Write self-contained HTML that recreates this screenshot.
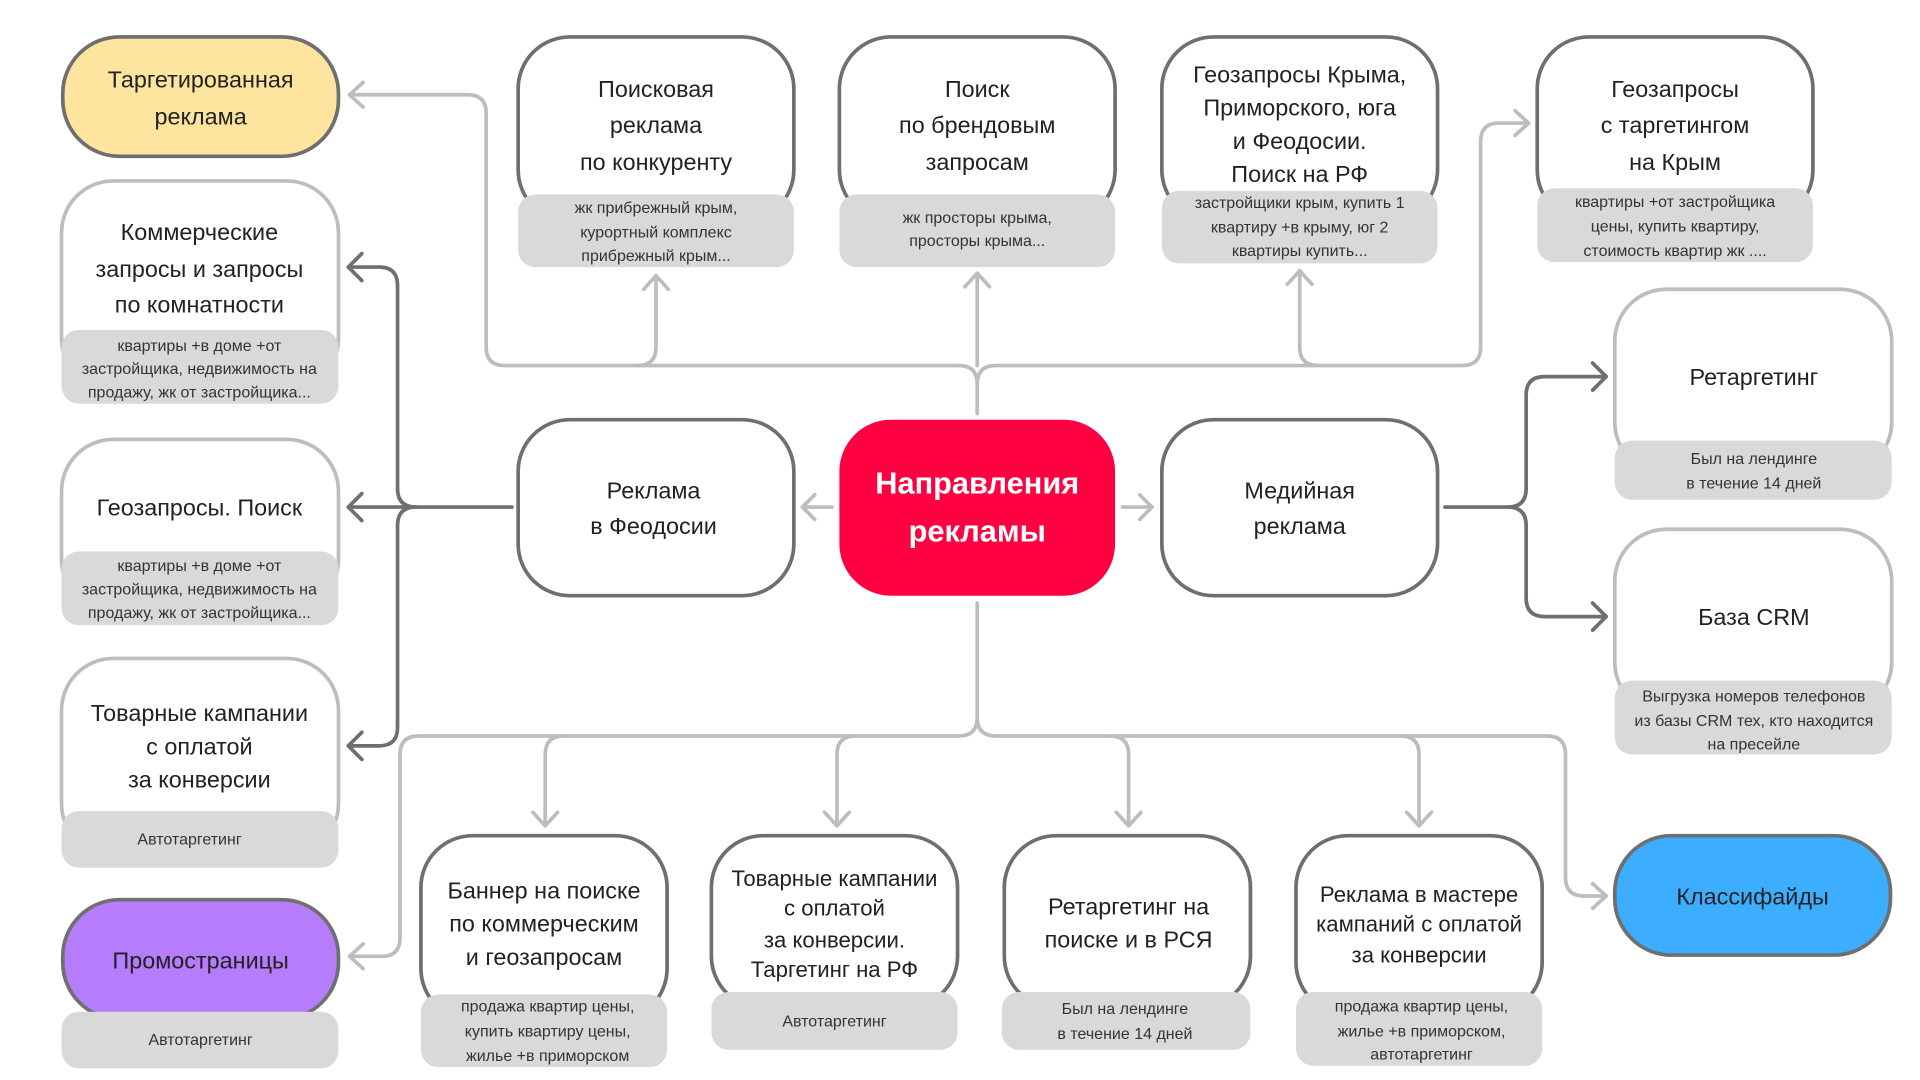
<!DOCTYPE html>
<html><head><meta charset="utf-8"><style>
html,body{margin:0;padding:0;background:#fff;}
svg{display:block}
text{font-family:"Liberation Sans",sans-serif;text-anchor:middle;fill:#222}
.t{font-size:19px}
.l{font-size:13px;fill:#333}
.dk{fill:#fff;stroke:#6f6f6f;stroke-width:3}
.lt{fill:#fff;stroke:#bdbdbd;stroke-width:3}
.lb{fill:#d9d9d9}
.cl{fill:none;stroke:#bdbdbd;stroke-width:3;stroke-linecap:round;stroke-linejoin:round}
.cd{fill:none;stroke:#6f6f6f;stroke-width:3;stroke-linecap:round;stroke-linejoin:round}
</style></head><body>
<svg width="1920" height="1080" viewBox="0 0 1560 877.5" xmlns="http://www.w3.org/2000/svg">
<rect width="1560" height="878" fill="#fff"/>
<!-- connectors light top -->
<path class="cl" d="M794,336 V312 Q794,297 779,297 H410 Q395,297 395,282 V92 Q395,77 380,77 H285"/>
<path class="cl" d="M794,312 Q794,297 809,297 H1188 Q1203,297 1203,282 V115 Q1203,100 1218,100 H1241"/>
<path class="cl" d="M518,297 Q533,297 533,282 V224"/>
<path class="cl" d="M794,297 V222"/>
<path class="cl" d="M1071,297 Q1056,297 1056,282 V220"/>
<polyline class="cl" points="295,67 284,77 295,87"/>
<polyline class="cl" points="1231,90 1242,100 1231,110"/>
<polyline class="cl" points="523,235 533,224 543,235"/>
<polyline class="cl" points="784,233 794,222 804,233"/>
<polyline class="cl" points="1046,231 1056,220 1066,231"/>
<!-- left dark -->
<path class="cd" d="M416,412 H283"/>
<path class="cd" d="M338,412 Q323,412 323,397 V232 Q323,217 308,217 H283"/>
<path class="cd" d="M338,412 Q323,412 323,427 V591 Q323,606 308,606 H283"/>
<polyline class="cd" points="294,206 283,217 294,228"/>
<polyline class="cd" points="294,401 283,412 294,423"/>
<polyline class="cd" points="294,595 283,606 294,617"/>
<!-- center side arrows -->
<path class="cl" d="M676,412 H652"/><polyline class="cl" points="662,402 652,412 662,422"/>
<path class="cl" d="M912,412 H936"/><polyline class="cl" points="926,402 936,412 926,422"/>
<!-- right dark -->
<path class="cd" d="M1174,412 H1225 Q1240,412 1240,397 V321 Q1240,306 1255,306 H1305"/>
<path class="cd" d="M1225,412 Q1240,412 1240,427 V486 Q1240,501 1255,501 H1305"/>
<polyline class="cd" points="1294,295 1305,306 1294,317"/>
<polyline class="cd" points="1294,490 1305,501 1294,512"/>
<!-- bottom light -->
<path class="cl" d="M794,490 V583 Q794,598 779,598 H340 Q325,598 325,613 V762 Q325,777 310,777 H285"/>
<path class="cl" d="M794,583 Q794,598 809,598 H1257 Q1272,598 1272,613 V713 Q1272,728 1287,728 H1305"/>
<path class="cl" d="M458,598 Q443,598 443,613 V670"/>
<path class="cl" d="M695,598 Q680,598 680,613 V670"/>
<path class="cl" d="M902,598 Q917,598 917,613 V670"/>
<path class="cl" d="M1138,598 Q1153,598 1153,613 V670"/>
<polyline class="cl" points="295,767 284,777 295,787"/>
<polyline class="cl" points="1294,718 1305,728 1294,738"/>
<polyline class="cl" points="433,660 443,671 453,660"/>
<polyline class="cl" points="670,660 680,671 690,660"/>
<polyline class="cl" points="907,660 917,671 927,660"/>
<polyline class="cl" points="1143,660 1153,671 1163,660"/>

<!-- left column -->
<rect x="51" y="30" width="224" height="97" rx="46" fill="#fde59f" stroke="#6f6f6f" stroke-width="3"/>
<text class="t" x="163" y="71">Таргетированная</text><text class="t" x="163" y="101">реклама</text>

<rect class="lt" x="50" y="147" width="225" height="170" rx="42"/>
<rect class="lb" x="50" y="268" width="225" height="60" rx="14"/>
<text class="t" x="162" y="195">Коммерческие</text><text class="t" x="162" y="225">запросы и запросы</text><text class="t" x="162" y="254">по комнатности</text>
<text class="l" x="162" y="285">квартиры +в доме +от</text><text class="l" x="162" y="304">застройщика, недвижимость на</text><text class="l" x="162" y="323">продажу, жк от застройщика...</text>

<rect class="lt" x="50" y="357" width="225" height="140" rx="42"/>
<rect class="lb" x="50" y="448" width="225" height="60" rx="14"/>
<text class="t" x="162" y="419">Геозапросы. Поиск</text>
<text class="l" x="162" y="464">квартиры +в доме +от</text><text class="l" x="162" y="483">застройщика, недвижимость на</text><text class="l" x="162" y="502">продажу, жк от застройщика...</text>

<rect class="lt" x="50" y="535" width="225" height="160" rx="42"/>
<rect class="lb" x="50" y="659" width="225" height="46" rx="14"/>
<text class="t" x="162" y="586">Товарные кампании</text><text class="t" x="162" y="613">с оплатой</text><text class="t" x="162" y="640">за конверсии</text>
<text class="l" x="154" y="686">Автотаргетинг</text>

<rect x="51" y="731" width="224" height="97" rx="46" fill="#b57cfb" stroke="#6f6f6f" stroke-width="3"/>
<rect class="lb" x="50" y="822" width="225" height="46" rx="14"/>
<text class="t" x="163" y="787">Промостраницы</text>
<text class="l" x="163" y="849">Автотаргетинг</text>

<!-- top row -->
<rect class="dk" x="421" y="30" width="224" height="150" rx="42"/>
<rect class="lb" x="421" y="158" width="224" height="59" rx="14"/>
<text class="t" x="533" y="79">Поисковая</text><text class="t" x="533" y="108">реклама</text><text class="t" x="533" y="138">по конкуренту</text>
<text class="l" x="533" y="173">жк прибрежный крым,</text><text class="l" x="533" y="193">курортный комплекс</text><text class="l" x="533" y="212">прибрежный крым...</text>

<rect class="dk" x="682" y="30" width="224" height="150" rx="42"/>
<rect class="lb" x="682" y="158" width="224" height="59" rx="14"/>
<text class="t" x="794" y="79">Поиск</text><text class="t" x="794" y="108">по брендовым</text><text class="t" x="794" y="138">запросам</text>
<text class="l" x="794" y="181">жк просторы крыма,</text><text class="l" x="794" y="200">просторы крыма...</text>

<rect class="dk" x="944" y="30" width="224" height="150" rx="42"/>
<rect class="lb" x="944" y="155" width="224" height="59" rx="14"/>
<text class="t" x="1056" y="67">Геозапросы Крыма,</text><text class="t" x="1056" y="94">Приморского, юга</text><text class="t" x="1056" y="121">и Феодосии.</text><text class="t" x="1056" y="148">Поиск на РФ</text>
<text class="l" x="1056" y="169">застройщики крым, купить 1</text><text class="l" x="1056" y="189">квартиру +в крыму, юг 2</text><text class="l" x="1056" y="208">квартиры купить...</text>

<rect class="dk" x="1249" y="30" width="224" height="150" rx="42"/>
<rect class="lb" x="1249" y="153" width="224" height="60" rx="14"/>
<text class="t" x="1361" y="79">Геозапросы</text><text class="t" x="1361" y="108">с таргетингом</text><text class="t" x="1361" y="138">на Крым</text>
<text class="l" x="1361" y="168">квартиры +от застройщика</text><text class="l" x="1361" y="188">цены, купить квартиру,</text><text class="l" x="1361" y="208">стоимость квартир жк ....</text>

<!-- middle row -->
<rect class="dk" x="421" y="341" width="224" height="143" rx="42"/>
<text class="t" x="531" y="405">Реклама</text><text class="t" x="531" y="434">в Феодосии</text>
<rect x="682" y="341" width="224" height="143" rx="42" fill="#ff0041"/>
<text x="794" y="401" style="font-size:25px;font-weight:bold;fill:#fff">Направления</text>
<text x="794" y="440" style="font-size:25px;font-weight:bold;fill:#fff">рекламы</text>
<rect class="dk" x="944" y="341" width="224" height="143" rx="42"/>
<text class="t" x="1056" y="405">Медийная</text><text class="t" x="1056" y="434">реклама</text>

<!-- right column -->
<rect class="lt" x="1312" y="235" width="225" height="150" rx="42"/>
<rect class="lb" x="1312" y="358" width="225" height="48" rx="14"/>
<text class="t" x="1425" y="313">Ретаргетинг</text>
<text class="l" x="1425" y="377">Был на лендинге</text><text class="l" x="1425" y="397">в течение 14 дней</text>

<rect class="lt" x="1312" y="430" width="225" height="150" rx="42"/>
<rect class="lb" x="1312" y="553" width="225" height="60" rx="14"/>
<text class="t" x="1425" y="508">База CRM</text>
<text class="l" x="1425" y="570">Выгрузка номеров телефонов</text><text class="l" x="1425" y="590">из базы CRM тех, кто находится</text><text class="l" x="1425" y="609">на пресейле</text>

<rect x="1312" y="679" width="224" height="97" rx="46" fill="#3dadff" stroke="#6f6f6f" stroke-width="3"/>
<text class="t" x="1424" y="735">Классифайды</text>

<!-- bottom row -->
<rect class="dk" x="342" y="679" width="200" height="150" rx="42"/>
<rect class="lb" x="342" y="808" width="200" height="59" rx="14"/>
<text class="t" x="442" y="730">Баннер на поиске</text><text class="t" x="442" y="757">по коммерческим</text><text class="t" x="442" y="784">и геозапросам</text>
<text class="l" x="445" y="822">продажа квартир цены,</text><text class="l" x="445" y="842">купить квартиру цены,</text><text class="l" x="445" y="862">жилье +в приморском</text>

<rect class="dk" x="578" y="679" width="200" height="140" rx="42"/>
<rect class="lb" x="578" y="806" width="200" height="47" rx="14"/>
<text class="t" x="678" y="720" style="font-size:18px">Товарные кампании</text><text class="t" x="678" y="744" style="font-size:18px">с оплатой</text><text class="t" x="678" y="770" style="font-size:18px">за конверсии.</text><text class="t" x="678" y="794" style="font-size:18px">Таргетинг на РФ</text>
<text class="l" x="678" y="834">Автотаргетинг</text>

<rect class="dk" x="816" y="679" width="200" height="140" rx="42"/>
<rect class="lb" x="814" y="806" width="202" height="47" rx="14"/>
<text class="t" x="917" y="743">Ретаргетинг на</text><text class="t" x="917" y="770">поиске и в РСЯ</text>
<text class="l" x="914" y="824">Был на лендинге</text><text class="l" x="914" y="844">в течение 14 дней</text>

<rect class="dk" x="1053" y="679" width="200" height="145" rx="42"/>
<rect class="lb" x="1053" y="806" width="200" height="60" rx="14"/>
<text class="t" x="1153" y="733" style="font-size:18px">Реклама в мастере</text><text class="t" x="1153" y="757" style="font-size:18px">кампаний с оплатой</text><text class="t" x="1153" y="782" style="font-size:18px">за конверсии</text>
<text class="l" x="1155" y="822">продажа квартир цены,</text><text class="l" x="1155" y="842">жилье +в приморском,</text><text class="l" x="1155" y="861">автотаргетинг</text>
</svg>
</body></html>
